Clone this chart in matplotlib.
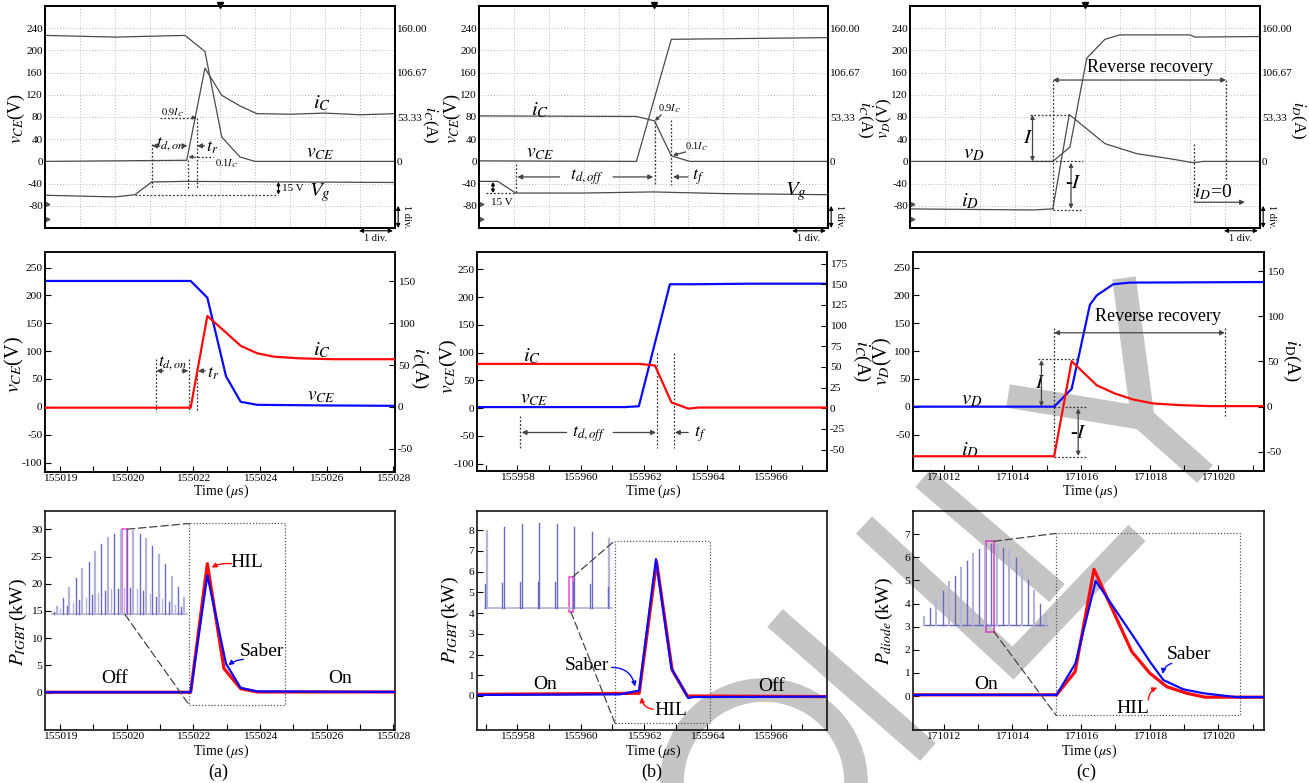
import matplotlib
matplotlib.use('Agg')
import matplotlib.pyplot as plt
from matplotlib.patches import Rectangle, Circle, ConnectionPatch
from matplotlib.lines import Line2D
from matplotlib.transforms import IdentityTransform
from matplotlib.ticker import FixedLocator, FixedFormatter

plt.rcParams['font.family'] = ['Liberation Serif', 'DejaVu Serif']
plt.rcParams['mathtext.fontset'] = 'stix'
plt.rcParams['axes.unicode_minus'] = False

# ===================== DATA =====================
# Row 1 : oscilloscope captures (x in divisions, every trace on the left V grid)
scope_right_vals = [0, 53.33, 106.67, 160.00]
scope_right_labels = ['0', '53.33', '106.67', '160.00']

osc_a_x_vce = [0, 2.0, 4.0, 4.57, 5.05, 5.57, 6.0, 10]
osc_a_vce = [227, 224, 227, 198, 44, 8, 0, 0]
osc_a_x_ic = [0, 4.05, 4.57, 5.05, 5.57, 6.05, 7.0, 8.0, 9.0, 10]
osc_a_ic = [0, 2, 168, 119, 100, 86, 85, 87, 84, 86]
osc_a_x_vg = [0, 2.0, 2.57, 3.05, 4.0, 10]
osc_a_vg = [-61, -64, -60, -37, -36, -38]

osc_b_x_vce = [0, 4.51, 5.51, 10]
osc_b_vce = [1, 0, 220, 223]
osc_b_x_ic = [0, 4.51, 5.03, 5.51, 6.04, 10]
osc_b_ic = [82, 81, 73, 10, 0, 0]
osc_b_x_vg = [0, 0.54, 1.05, 3.0, 4.99, 7.0, 10]
osc_b_vg = [-36, -36, -57, -57, -55, -58, -60]

osc_c_x_vd = [0, 4.08, 4.57, 5.05, 5.57, 6.0, 8.0, 8.14, 10]
osc_c_vd = [0, 0, 26, 186, 220, 228, 228, 224, 225]
osc_c_x_id = [0, 3.52, 4.08, 4.55, 5.57, 6.48, 7.43, 8.1, 8.38, 10]
osc_c_id = [-85.6, -87.5, -85.6, 84.4, 32, 13.9, 4.8, -2.4, 0, 0]

# Row 2 : simulated waveforms (time in us)
mid_a_t_v = [155017.55, 155021.92, 155022.42, 155022.98, 155023.42, 155023.92, 155026.0, 155028.05]
mid_a_vce = [226, 226, 196, 55, 9, 3.6, 2.5, 1.8]
mid_a_t_i = [155017.55, 155021.92, 155022.42, 155022.92, 155023.42, 155023.92, 155024.42, 155025.2, 155026.2, 155028.05]
mid_a_ic = [-1, -1, 108.7, 91, 73, 64, 60, 58, 57, 57]

mid_b_t_v = [155956.73, 155961.40, 155961.84, 155962.82, 155963.56, 155965.45, 155967.78]
mid_b_vce = [2, 2, 3.5, 223, 223, 224, 224]
mid_b_t_i = [155956.73, 155961.87, 155962.35, 155962.87, 155963.40, 155963.72, 155967.78]
mid_b_ic = [53.6, 53.6, 51.6, 6.9, -0.5, 0.8, 0.8]

mid_c_t_v = [171011.11, 171015.22, 171015.73, 171016.26, 171016.46, 171016.94, 171017.43, 171021.33]
mid_c_vd = [0, 0, 32, 183, 200, 220, 223, 224]
mid_c_t_i = [171011.11, 171015.22, 171015.73, 171016.46, 171016.99, 171017.52, 171018.11, 171018.88, 171019.76, 171021.33]
mid_c_id = [-54.7, -54.7, 50.4, 23.7, 14.6, 8, 3.6, 1.8, 0.7, 0.7]

# Row 3 : power losses (kW)
bot_a_t_saber = [155017.55, 155021.92, 155022.42, 155022.98, 155023.42, 155023.92, 155028.05]
bot_a_saber = [0.05, 0.05, 21.6, 5.3, 0.86, 0.2, 0.1]
bot_a_t_hil = [155017.55, 155021.92, 155022.42, 155022.92, 155023.42, 155023.92, 155028.05]
bot_a_hil = [0.05, 0.05, 23.7, 4.4, 0.7, 0.1, 0.1]

bot_b_t_saber = [155956.73, 155961.24, 155961.85, 155962.38, 155962.87, 155963.40, 155963.56, 155967.78]
bot_b_saber = [0.05, 0.08, 0.26, 6.6, 1.33, -0.1, -0.05, -0.03]
bot_b_t_hil = [155956.73, 155961.85, 155962.40, 155962.89, 155963.37, 155967.78]
bot_b_hil = [0.08, 0.13, 6.47, 1.25, 0.0, -0.03]

bot_c_t_hil = [171011.11, 171015.29, 171015.83, 171016.38, 171017.48, 171018.01, 171018.50, 171019.08, 171019.61, 171021.33]
bot_c_hil = [0.05, 0.05, 1.05, 5.48, 1.92, 0.98, 0.40, 0.12, -0.05, -0.05]
bot_c_t_saber = [171011.11, 171015.29, 171015.84, 171016.43, 171017.52, 171018.01, 171018.40, 171018.98, 171019.56, 171020.53, 171021.33]
bot_c_saber = [0.05, 0.05, 1.41, 4.98, 2.59, 1.48, 0.69, 0.29, 0.12, -0.05, -0.05]

# insets: pulse envelopes over one fundamental period (kW, drawn on the main scale)
inset_a_base = 14.36
inset_a_tall = [15.7, 17.3, 19.2, 21.0, 22.7, 24.1, 25.8, 27.3, 28.4, 29.2, 29.7,
                29.9, 29.7, 29.2, 28.2, 27.0, 25.3, 23.6, 21.3, 19.5, 17.3]
inset_a_short = [14.8, 15.4, 15.9, 16.5, 17.0, 17.3, 17.9, 18.4, 18.7, 19.0, 19.1,
                 19.2, 19.2, 19.0, 18.7, 18.1, 17.6, 17.2, 16.7, 16.1, 15.7]
inset_b_base = 4.23
inset_b_tall = [7.95, 8.15, 8.3, 8.35, 8.3, 8.15, 7.9, 7.55]
inset_b_short = [5.4, 5.47, 5.52, 5.52, 5.52, 5.5, 5.4, 5.25]
inset_c_base = 3.07
inset_c_tall = [3.4, 3.8, 4.15, 4.55, 4.92, 5.17, 5.52, 5.85, 6.15, 6.35, 6.5,
                6.57, 6.55, 6.4, 6.25, 5.95, 5.5, 5.0, 4.55, 4.0, 3.5]

# axes tick definitions
ticks_a = list(range(155018, 155029))
labels_a = ['155019', '', '155020', '', '155022', '', '155024', '', '155026', '', '155028']
ticks_b = list(range(155957, 155968))
labels_b = ['', '155958', '', '155960', '', '155962', '', '155964', '', '155966', '']
ticks_c = list(range(171012, 171022))
labels_c = ['171012', '', '171014', '', '171016', '', '171018', '', '171020', '']

# ===================== FIGURE =====================
W, H = 1309, 783
fig = plt.figure(figsize=(W / 100, H / 100), dpi=100)
fig.patch.set_facecolor('white')


def box(l, t, r, b):
    return [l / W, 1 - b / H, (r - l) / W, (b - t) / H]


def ftext(x, y, s, **kw):
    fig.text(x / W, 1 - y / H, s, **kw)


ANN = '#333333'
GRID = '#a5a5a5'
TRACE = '#4a4a4a'
BLUE = '#0a0aff'
RED = '#ff0a0a'


def vdash(ax, x, y0, y1, c=ANN, lw=0.9):
    ax.plot([x, x], [y0, y1], color=c, lw=lw, ls=(0, (1.5, 1.5)), zorder=3)


def hdash(ax, y, x0, x1, c=ANN, lw=0.9):
    ax.plot([x0, x1], [y, y], color=c, lw=lw, ls=(0, (1.5, 1.5)), zorder=3)


def arr(ax, x0, y0, x1, y1, style='-|>', c='#444444', lw=0.9, ms=7, cs='arc3'):
    ax.annotate('', xy=(x1, y1), xytext=(x0, y0),
                arrowprops=dict(arrowstyle=style, color=c, lw=lw, shrinkA=0, shrinkB=0,
                                mutation_scale=ms, connectionstyle=cs),
                annotation_clip=False, zorder=4)


# ---------- watermark (drawn behind all axes) ----------
WM = '#c4c4c4'


def wm_line(pts, lw=17):
    xs = [p[0] / W for p in pts]
    ys = [1 - p[1] / H for p in pts]
    fig.add_artist(Line2D(xs, ys, transform=fig.transFigure, color=WM, lw=lw,
                          solid_capstyle='butt', solid_joinstyle='miter', zorder=-2))


wm_line([(775, 618), (928, 752)])
wm_line([(864, 525), (1013, 663), (1137, 533)])
wm_line([(923, 478), (1057, 593)])
wm_line([(1008, 396), (1142, 418), (1205, 474)])
wm_line([(1124, 278), (1143, 420)])
fig.add_artist(Circle((764, H - 782), 92, transform=IdentityTransform(), fill=False,
                      ec=WM, lw=17, zorder=-2))


# ---------- Row 1 : oscilloscope ----------
def scope_axes(bx):
    ax = fig.add_axes(box(*bx))
    ax.set_facecolor('none')
    ax.set_xlim(0, 10)
    ax.set_ylim(-120, 280)
    for xv in range(1, 10):
        ax.plot([xv, xv], [-120, 280], color=GRID, lw=0.6, ls=(0, (1, 2.5)), zorder=0.5)
    for yv in range(-80, 281, 40):
        ax.plot([0, 10], [yv, yv], color=GRID, lw=0.6, ls=(0, (1, 2.5)), zorder=0.5)
    ax.set_xticks([])
    ax.set_yticks(list(range(-80, 241, 40)))
    ax.tick_params(axis='y', length=0, pad=1.5, labelsize=8)
    for s in ax.spines.values():
        s.set_linewidth(1.4)
    axr = ax.twinx()
    axr.set_ylim(-120, 280)
    axr.set_yticks([v * 1.5 for v in scope_right_vals])
    axr.set_yticklabels(scope_right_labels)
    axr.tick_params(axis='y', length=0, pad=1.5, labelsize=8)
    for s in axr.spines.values():
        s.set_linewidth(1.4)
    ax.plot([5], [281], marker='v', ms=4, color='k', clip_on=False, zorder=5)
    ax.plot([0.07, 0.07], [-76, -104], ls='none', marker='>', ms=3.5, color='#555555',
            clip_on=False, zorder=5)
    arr(ax, 10.09, -120, 10.09, -80, style='<|-|>', c='k', lw=0.8, ms=6)
    ax.text(10.32, -100, '1 div.', rotation=-90, fontsize=7.5, ha='center', va='center')
    arr(ax, 8.97, -125, 9.94, -125, style='<|-|>', c='k', lw=0.8, ms=6)
    ax.text(9.45, -139, '1 div.', fontsize=7.5, ha='center', va='center')
    return ax


TOP_BOX = [(45, 6, 395, 228), (479, 6, 828, 228), (910, 6, 1260, 228)]
MID_BOX = [(45, 252, 395, 472), (477, 252, 827, 471), (913, 252, 1264, 471)]
BOT_BOX = [(45, 511, 395, 730), (477, 511, 827, 730), (913, 511, 1264, 730)]

# (a) top
ax = scope_axes(TOP_BOX[0])
ax.plot(osc_a_x_vce, osc_a_vce, color=TRACE, lw=0.9)
ax.plot(osc_a_x_ic, osc_a_ic, color=TRACE, lw=0.9)
ax.plot(osc_a_x_vg, osc_a_vg, color=TRACE, lw=0.9)
vdash(ax, 3.05, 32, -48); vdash(ax, 4.08, 3, -48); vdash(ax, 4.33, 79, -48)
hdash(ax, 79, 3.29, 4.30); arr(ax, 4.20, 79, 4.33, 79, ms=5)
hdash(ax, 8, 4.15, 4.81); arr(ax, 4.25, 8, 4.10, 8, ms=5)
hdash(ax, -60, 2.57, 6.67)
arr(ax, 3.24, 28, 3.06, 28); arr(ax, 3.95, 28, 4.07, 28)
ax.text(3.6, 31, r'$t_{d,on}$', fontsize=12.5, ha='center', va='center')
arr(ax, 4.56, 28, 4.35, 28)
ax.text(4.6, 25, r'$t_r$', fontsize=13, ha='left', va='center')
ax.text(3.66, 87, r'$0.9I_C$', fontsize=7.5, ha='center', va='center')
ax.text(5.2, -4, r'$0.1I_C$', fontsize=7.5, ha='center', va='center')
arr(ax, 6.67, -37, 6.67, -60, style='<|-|>', c='k', lw=0.8, ms=5)
ax.text(6.76, -48, '15 V', fontsize=8, ha='left', va='center')
ax.text(7.85, -56, r'$V_g$', fontsize=15, ha='center', va='center')
ax.text(7.9, 104, r'$i_C$', fontsize=15, ha='center', va='center')
ax.text(7.85, 14, r'$v_{CE}$', fontsize=14, ha='center', va='center')
ftext(16, 118, r'$v_{CE}$(V)', fontsize=13, rotation=90, ha='center', va='center')
ftext(430, 125, r'$i_C$(A)', fontsize=12, rotation=-90, ha='center', va='center')

# (b) top
ax = scope_axes(TOP_BOX[1])
ax.plot(osc_b_x_vce, osc_b_vce, color=TRACE, lw=0.9)
ax.plot(osc_b_x_ic, osc_b_ic, color=TRACE, lw=0.9)
ax.plot(osc_b_x_vg, osc_b_vg, color=TRACE, lw=0.9)
arr(ax, 0.40, -37, 0.40, -57, style='<|-|>', c='k', lw=0.8, ms=5)
hdash(ax, -57, 0.21, 1.05)
ax.text(0.64, -74, '15 V', fontsize=8, ha='center', va='center')
vdash(ax, 1.07, -4, -58); vdash(ax, 5.03, 71, -43); vdash(ax, 5.51, 74, -43)
arr(ax, 2.31, -28, 1.10, -28); arr(ax, 3.84, -28, 4.99, -28)
ax.text(3.08, -28, r'$t_{d,off}$', fontsize=13, ha='center', va='center')
arr(ax, 5.99, -28, 5.56, -28)
ax.text(6.27, -28, r'$t_f$', fontsize=13, ha='center', va='center')
ax.text(5.46, 95, r'0.9$I_C$', fontsize=7.5, ha='center', va='center')
arr(ax, 5.22, 84, 5.04, 73, ms=5)
ax.text(6.23, 26, r'0.1$I_C$', fontsize=7.5, ha='center', va='center')
arr(ax, 5.92, 17, 5.56, 11, ms=5)
ax.text(1.74, 92, r'$i_C$', fontsize=15, ha='center', va='center')
ax.text(1.74, 14, r'$v_{CE}$', fontsize=14, ha='center', va='center')
ax.text(9.09, -55, r'$V_g$', fontsize=15, ha='center', va='center')
ftext(452, 118, r'$v_{CE}$(V)', fontsize=13, rotation=90, ha='center', va='center')
ftext(865, 120, r'$i_C$(A)', fontsize=12, rotation=-90, ha='center', va='center')

# (c) top
ax = scope_axes(TOP_BOX[2])
ax.plot(osc_c_x_vd, osc_c_vd, color=TRACE, lw=0.9)
ax.plot(osc_c_x_id, osc_c_id, color=TRACE, lw=0.9)
hdash(ax, 84, 3.43, 4.55)
arr(ax, 3.5, 84, 3.5, 0, style='<|-|>', ms=6)
ax.text(3.36, 42, r'$I$', fontsize=15, ha='center', va='center')
hdash(ax, 0, 3.52, 4.95)
arr(ax, 4.6, -2.4, 4.6, -85.6, style='<|-|>', ms=6)
ax.text(4.67, -40, r'-$I$', fontsize=15, ha='center', va='center')
hdash(ax, -87.5, 4.08, 4.95)
vdash(ax, 4.08, 146.6, -85.6); vdash(ax, 9.03, 146.6, -34)
arr(ax, 4.08, 146.6, 9.03, 146.6, style='<|-|>', ms=7)
ax.text(6.86, 170, 'Reverse recovery', fontsize=13, ha='center', va='center')
vdash(ax, 8.1, 32, -73.6)
ax.text(8.67, -55, r'$i_D$=0', fontsize=14, ha='center', va='center')
arr(ax, 8.14, -73.6, 9.57, -73.6, ms=7)
ax.text(1.81, 14, r'$v_D$', fontsize=15, ha='center', va='center')
ax.text(1.71, -73, r'$i_D$', fontsize=15, ha='center', va='center')
ftext(884, 118, r'$v_D$(V)', fontsize=12, rotation=90, ha='center', va='center')
ftext(1298, 120, r'$i_D$(A)', fontsize=12, rotation=-90, ha='center', va='center')


# ---------- Rows 2/3 : time axes ----------
def time_axes(bx, xlim, ylim, ticks, labels, yticks):
    ax = fig.add_axes(box(*bx))
    ax.set_facecolor('none')
    ax.set_xlim(*xlim)
    ax.set_ylim(*ylim)
    ax.xaxis.set_major_locator(FixedLocator(ticks))
    ax.xaxis.set_major_formatter(FixedFormatter(labels))
    ax.yaxis.set_major_locator(FixedLocator(yticks))
    ax.tick_params(direction='in', length=4, width=0.8, labelsize=8.2, pad=2)
    ax.tick_params(axis='x', pad=1.5)
    for s in ax.spines.values():
        s.set_linewidth(1.1)
    return ax


def right_axis(ax, ylim, yticks):
    axr = ax.twinx()
    axr.set_ylim(*ylim)
    axr.yaxis.set_major_locator(FixedLocator(yticks))
    axr.tick_params(direction='in', length=4, width=0.8, labelsize=8.2, pad=2)
    for s in axr.spines.values():
        s.set_linewidth(1.1)
    return axr


xl_a = (155017.55, 155028.05)
xl_b = (155956.73, 155967.78)
xl_c = (171011.11, 171021.33)

# (a) middle
ax = time_axes(MID_BOX[0], xl_a, (-117, 278), ticks_a, labels_a, list(range(-100, 251, 50)))
axr = right_axis(ax, (-78, 185.3), [-50, 0, 50, 100, 150])
ax.plot(mid_a_t_v, mid_a_vce, color=BLUE, lw=1.6, zorder=3)
axr.plot(mid_a_t_i, mid_a_ic, color=RED, lw=1.6, zorder=3)
vdash(ax, 155020.87, 85.5, -9); vdash(ax, 155021.87, 85.5, -9); vdash(ax, 155022.12, 72, -9)
arr(ax, 155021.10, 64.6, 155020.89, 64.6); arr(ax, 155021.66, 64.6, 155021.85, 64.6)
ax.text(155021.37, 79, r'$t_{d,on}$', fontsize=12.5, ha='center', va='center')
arr(ax, 155022.36, 64.6, 155022.14, 64.6)
ax.text(155022.42, 60, r'$t_r$', fontsize=13, ha='left', va='center')
ax.text(155025.85, 101, r'$i_C$', fontsize=15, ha='center', va='center')
ax.text(155025.85, 18, r'$v_{CE}$', fontsize=14, ha='center', va='center')
ftext(14, 365, r'$v_{CE}$(V)', fontsize=14.5, rotation=90, ha='center', va='center')
ftext(420, 368, r'$i_C$(A)', fontsize=13.5, rotation=-90, ha='center', va='center')
ftext(221, 491, r'Time ($\mu$s)', fontsize=10, ha='center', va='center')

# (b) middle
ax = time_axes(MID_BOX[1], xl_b, (-113, 281), ticks_b, labels_b, list(range(-100, 251, 50)))
axr = right_axis(ax, (-76, 189), list(range(-50, 176, 25)))
ax.plot(mid_b_t_v, mid_b_vce, color=BLUE, lw=1.6, zorder=3)
axr.plot(mid_b_t_i, mid_b_ic, color=RED, lw=1.6, zorder=3)
vdash(ax, 155958.08, -13.8, -71.9); vdash(ax, 155962.42, 98.8, -71.9); vdash(ax, 155962.95, 98.8, -71.9)
arr(ax, 155959.56, -43.7, 155958.14, -43.7); arr(ax, 155961.03, -43.7, 155962.38, -43.7)
ax.text(155960.25, -46, r'$t_{d,off}$', fontsize=13, ha='center', va='center')
arr(ax, 155963.4, -43.7, 155962.98, -43.7)
ax.text(155963.77, -46, r'$t_f$', fontsize=13, ha='center', va='center')
ax.text(155958.45, 93, r'$i_C$', fontsize=15, ha='center', va='center')
ax.text(155958.55, 15, r'$v_{CE}$', fontsize=14, ha='center', va='center')
ftext(448, 366, r'$v_{CE}$(V)', fontsize=14, rotation=90, ha='center', va='center')
ftext(862, 361, r'$i_C$(A)', fontsize=13.5, rotation=-90, ha='center', va='center')
ftext(653, 491, r'Time ($\mu$s)', fontsize=10, ha='center', va='center')

# (c) middle
ax = time_axes(MID_BOX[2], xl_c, (-115.6, 278), ticks_c, labels_c, list(range(-50, 251, 50)))
axr = right_axis(ax, (-71, 171), [-50, 0, 50, 100, 150])
ax.plot(mid_c_t_v, mid_c_vd, color=BLUE, lw=1.6, zorder=3)
axr.plot(mid_c_t_i, mid_c_id, color=RED, lw=1.6, zorder=3)
vdash(ax, 171015.22, 140.6, -89.7); vdash(ax, 171020.19, 140.6, -18)
arr(ax, 171015.22, 132.8, 171020.19, 132.8, style='<|-|>', ms=7)
ax.text(171018.25, 162, 'Reverse recovery', fontsize=13, ha='center', va='center')
hdash(ax, 85, 171014.76, 171015.92)
arr(ax, 171014.85, 84, 171014.85, 0, style='<|-|>', ms=6)
ax.text(171014.80, 42, r'$I$', fontsize=15, ha='center', va='center')
hdash(ax, 0, 171015.22, 171016.17)
arr(ax, 171015.92, -3, 171015.92, -88.5, style='<|-|>', ms=6)
ax.text(171015.92, -48, r'-$I$', fontsize=15, ha='center', va='center')
hdash(ax, -89.7, 171015.22, 171016.17)
ax.text(171012.82, 13, r'$v_D$', fontsize=15, ha='center', va='center')
ax.text(171012.77, -78, r'$i_D$', fontsize=15, ha='center', va='center')
ftext(882, 362, r'$v_D$(V)', fontsize=14.5, rotation=90, ha='center', va='center')
ftext(1292, 360, r'$i_{\mathrm{D}}$(A)', fontsize=13.5, rotation=-90, ha='center', va='center')
ftext(1090, 491, r'Time ($\mu$s)', fontsize=10, ha='center', va='center')


# ---------- Row 3 ----------
def inset_layer(bx, xlim_idx, ylim):
    axi = fig.add_axes(box(*bx))
    axi.set_xlim(*xlim_idx)
    axi.set_ylim(*ylim)
    axi.axis('off')
    axi.patch.set_visible(False)
    return axi


DARK_BAR = '#6a6ac4'
LIGHT_BAR = '#b4b4da'

# (a) bottom
ylim_a = (-6.9, 33.4)
ax = time_axes(BOT_BOX[0], xl_a, ylim_a, ticks_a, labels_a, list(range(0, 31, 5)))
ax.plot(bot_a_t_saber, bot_a_saber, color=BLUE, lw=1.6, zorder=4)
ax.plot(bot_a_t_hil, bot_a_hil, color=RED, lw=2.3, zorder=3)
ax.add_patch(Rectangle((155021.88, -2.33), 155024.75 - 155021.88, 31.1 + 2.33, fill=False,
                       ec='#555555', lw=0.9, ls=(0, (1, 1.5))))
axi = inset_layer(BOT_BOX[0], (-1.828, 53.0), ylim_a)
n = len(inset_a_tall)
axi.plot([-0.8, n - 0.6], [inset_a_base, inset_a_base], color=LIGHT_BAR, lw=1.2)
for i, v in enumerate(inset_a_tall):
    axi.plot([i, i], [inset_a_base, v], color=(DARK_BAR if i % 2 else LIGHT_BAR), lw=1.0 if i % 2 else 1.6)
for i, v in enumerate(inset_a_short):
    axi.plot([i - 0.45, i - 0.45], [inset_a_base, v], color=(LIGHT_BAR if i % 2 else DARK_BAR), lw=1.0)
pk = 11
axi.add_patch(Rectangle((pk - 0.8, inset_a_base), 0.85, inset_a_tall[pk] + 0.15 - inset_a_base,
                        fill=False, ec='#ff44dd', lw=1.1))
fig.add_artist(ConnectionPatch(xyA=(pk + 0.05, inset_a_tall[pk] + 0.15), coordsA=axi.transData,
                               xyB=(155021.88, 31.1), coordsB=ax.transData, color='#444444',
                               lw=0.9, ls=(0, (6, 3))))
fig.add_artist(ConnectionPatch(xyA=(pk - 0.3, inset_a_base), coordsA=axi.transData,
                               xyB=(155021.88, -2.33), coordsB=ax.transData, color='#444444',
                               lw=0.9, ls=(0, (6, 3))))
ax.text(155023.6, 23.9, 'HIL', fontsize=14, ha='center', va='center')
arr(ax, 155023.15, 23.7, 155022.55, 23.0, c=RED, lw=1.0, ms=7, cs='arc3,rad=0.15')
ax.text(155024.05, 7.6, 'Saber', fontsize=14, ha='center', va='center')
arr(ax, 155023.5, 6.1, 155023.05, 5.0, c=BLUE, lw=1.0, ms=7, cs='arc3,rad=0.15')
ax.text(155019.65, 2.6, 'Off', fontsize=14, ha='center', va='center')
ax.text(155026.4, 2.6, 'On', fontsize=14, ha='center', va='center')
ftext(18, 622, r'$P_{IGBT}\,$(kW)', fontsize=14, rotation=90, ha='center', va='center')
ftext(221, 751, r'Time ($\mu$s)', fontsize=10, ha='center', va='center')
ftext(218, 772, '(a)', fontsize=13, ha='center', va='center')

# (b) bottom
ylim_b = (-1.64, 8.92)
ax = time_axes(BOT_BOX[1], xl_b, ylim_b, ticks_b, labels_b, list(range(0, 9)))
ax.plot(bot_b_t_saber, bot_b_saber, color=BLUE, lw=1.6, zorder=4)
ax.plot(bot_b_t_hil, bot_b_hil, color=RED, lw=2.3, zorder=3)
ax.add_patch(Rectangle((155961.08, -1.29), 155964.08 - 155961.08, 7.49 + 1.29, fill=False,
                       ec='#555555', lw=0.9, ls=(0, (1, 1.5))))
axi = inset_layer(BOT_BOX[1], (-0.551, 19.41), ylim_b)
n = len(inset_b_tall)
axi.plot([-0.1, n - 0.87], [inset_b_base, inset_b_base], color=LIGHT_BAR, lw=1.2)
for i, v in enumerate(inset_b_tall):
    axi.plot([i, i], [inset_b_base, v], color=(LIGHT_BAR if i in (0, 7) else DARK_BAR),
             lw=1.6 if i in (0, 7) else 1.0)
for i, v in enumerate(inset_b_short):
    axi.plot([i - 0.1, i - 0.1], [inset_b_base, v], color=DARK_BAR, lw=1.0)
pk = 5
axi.add_patch(Rectangle((pk - 0.28, inset_b_base - 0.17), 0.2, inset_b_short[pk] + 0.42 - inset_b_base,
                        fill=False, ec='#ff44dd', lw=1.1))
fig.add_artist(ConnectionPatch(xyA=(pk - 0.08, inset_b_short[pk] + 0.25), coordsA=axi.transData,
                               xyB=(155961.08, 7.49), coordsB=ax.transData, color='#444444',
                               lw=0.9, ls=(0, (6, 3))))
fig.add_artist(ConnectionPatch(xyA=(pk - 0.2, inset_b_base - 0.17), coordsA=axi.transData,
                               xyB=(155961.08, -1.29), coordsB=ax.transData, color='#444444',
                               lw=0.9, ls=(0, (6, 3))))
ax.text(155960.19, 1.49, 'Saber', fontsize=14, ha='center', va='center')
arr(ax, 155960.98, 1.38, 155961.72, 0.45, c=BLUE, lw=1.0, ms=7, cs='arc3,rad=-0.4')
ax.text(155962.85, -0.7, 'HIL', fontsize=14, ha='center', va='center')
arr(ax, 155962.29, -0.64, 155961.93, -0.06, c=RED, lw=1.0, ms=7, cs='arc3,rad=-0.4')
ax.text(155958.87, 0.53, 'On', fontsize=14, ha='center', va='center')
ax.text(155966.03, 0.45, 'Off', fontsize=14, ha='center', va='center')
ftext(450, 620, r'$P_{IGBT}\,$(kW)', fontsize=14, rotation=90, ha='center', va='center')
ftext(653, 751, r'Time ($\mu$s)', fontsize=10, ha='center', va='center')
ftext(652, 772, '(b)', fontsize=13, ha='center', va='center')

# (c) bottom
ylim_c = (-1.47, 8.0)
ax = time_axes(BOT_BOX[2], xl_c, ylim_c, ticks_c, labels_c, list(range(0, 8)))
ax.plot(bot_c_t_saber, bot_c_saber, color=BLUE, lw=1.6, zorder=4)
ax.plot(bot_c_t_hil, bot_c_hil, color=RED, lw=2.3, zorder=3)
ax.add_patch(Rectangle((171015.27, -0.82), 171020.63 - 171015.27, 7.03 + 0.82, fill=False,
                       ec='#555555', lw=0.9, ls=(0, (1, 1.5))))
axi = inset_layer(BOT_BOX[2], (-1.863, 55.84), ylim_c)
n = len(inset_c_tall)
axi.plot([-0.16, n - 0.9], [inset_c_base, inset_c_base], color=DARK_BAR, lw=1.0)
for i, v in enumerate(inset_c_tall):
    axi.plot([i, i], [inset_c_base, v], color=(DARK_BAR if i % 2 else LIGHT_BAR), lw=1.0 if i % 2 else 1.5)
pk = 11
axi.add_patch(Rectangle((pk - 0.9, inset_c_base - 0.29), 1.35, inset_c_tall[pk] + 0.12 - inset_c_base + 0.29,
                        fill=False, ec='#d040c0', lw=1.1))
fig.add_artist(ConnectionPatch(xyA=(pk + 0.45, inset_c_tall[pk] + 0.12), coordsA=axi.transData,
                               xyB=(171015.27, 7.03), coordsB=ax.transData, color='#444444',
                               lw=0.9, ls=(0, (6, 3))))
fig.add_artist(ConnectionPatch(xyA=(pk + 0.45, inset_c_base - 0.29), coordsA=axi.transData,
                               xyB=(171015.27, -0.82), coordsB=ax.transData, color='#444444',
                               lw=0.9, ls=(0, (6, 3))))
ax.text(171019.13, 1.8, 'Saber', fontsize=14, ha='center', va='center')
arr(ax, 171018.64, 1.41, 171018.38, 0.95, c=BLUE, lw=1.0, ms=7, cs='arc3,rad=0.3')
ax.text(171017.52, -0.53, 'HIL', fontsize=14, ha='center', va='center')
arr(ax, 171017.96, -0.17, 171018.22, 0.36, c=RED, lw=1.0, ms=7, cs='arc3,rad=-0.3')
ax.text(171013.25, 0.48, 'On', fontsize=14, ha='center', va='center')
ftext(884, 621, r'$P_{diode}\,$(kW)', fontsize=14, rotation=90, ha='center', va='center')
ftext(1089, 751, r'Time ($\mu$s)', fontsize=10, ha='center', va='center')
ftext(1086, 772, '(c)', fontsize=13, ha='center', va='center')

fig.savefig('out.png', dpi=100, facecolor='white')
